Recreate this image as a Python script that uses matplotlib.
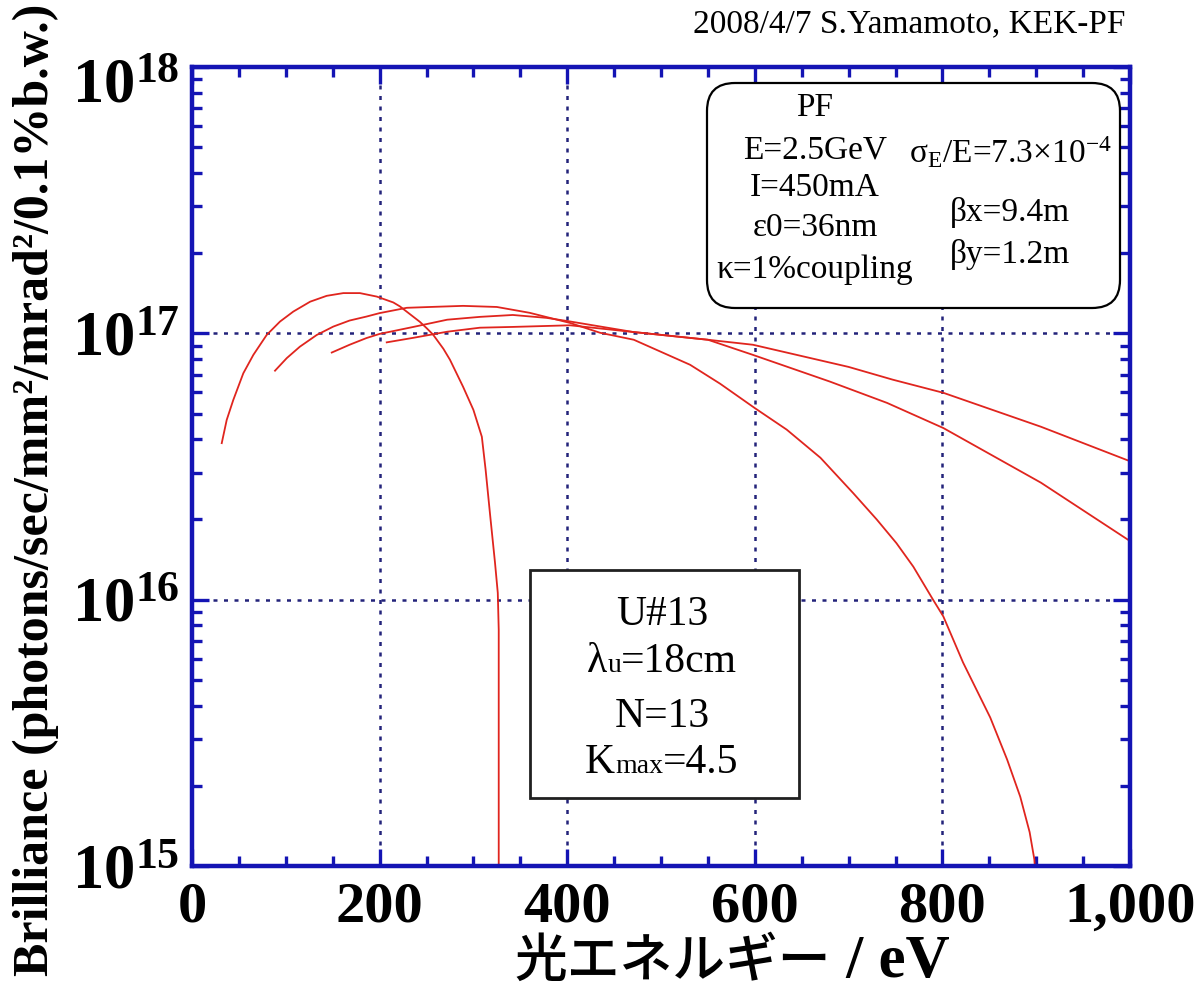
import matplotlib
matplotlib.use('Agg')
import matplotlib.pyplot as plt
from matplotlib.patches import FancyBboxPatch, Rectangle
from matplotlib.offsetbox import TextArea, HPacker, AnnotationBbox
from matplotlib.transforms import Affine2D, ScaledTranslation
from matplotlib.ticker import FixedLocator, LogLocator, NullFormatter, MultipleLocator

plt.rcParams['font.family'] = ['Liberation Serif', 'DejaVu Serif']
plt.rcParams['mathtext.fontset'] = 'custom'
plt.rcParams['mathtext.rm'] = 'Liberation Serif'
plt.rcParams['mathtext.bf'] = 'Liberation Serif:bold'
plt.rcParams['mathtext.it'] = 'Liberation Serif:italic'

# ---------------- data (photon energy eV, brilliance) ----------------
e_h1 = [31.7, 37, 44, 54.7, 65.4, 79.6, 93.8, 108, 126, 143.6, 161.3, 179,
        197, 214.6, 221.7, 243, 250, 257, 268, 275, 289, 300, 309, 313, 318,
        323, 326, 327, 327]
b_h1 = [3.87e16, 4.73e16, 5.62e16, 7.08e16, 8.30e16, 9.86e16, 1.107e17,
        1.207e17, 1.315e17, 1.383e17, 1.416e17, 1.416e17, 1.374e17, 1.306e17,
        1.262e17, 1.104e17, 1.047e17, 9.89e16, 8.75e16, 7.96e16, 6.30e16,
        5.16e16, 4.09e16, 3.08e16, 2.05e16, 1.38e16, 1.06e16, 7.7e15, 8.0e14]

e_h3 = [88.5, 101, 115, 133, 150.6, 168, 186, 200, 229, 254, 289, 325, 360,
        403, 435, 471, 531, 563, 600, 634, 670, 705, 730, 751, 769, 790, 801,
        822, 851, 869, 883, 893, 898, 899]
b_h3 = [7.24e16, 8.07e16, 8.91e16, 9.86e16, 1.06e17, 1.117e17, 1.156e17,
        1.191e17, 1.247e17, 1.256e17, 1.268e17, 1.256e17, 1.194e17, 1.094e17,
        1.005e17, 9.46e16, 7.62e16, 6.47e16, 5.24e16, 4.35e16, 3.41e16,
        2.51e16, 2.00e16, 1.63e16, 1.33e16, 1.00e16, 8.65e15, 5.81e15,
        3.61e15, 2.51e15, 1.82e15, 1.34e15, 1.06e15, 9.5e14]

e_h5 = [149, 168, 186, 200, 236, 272, 307, 342, 378, 403, 470, 550, 598, 680,
        741, 801, 905, 1000]
b_h5 = [8.47e16, 9.06e16, 9.60e16, 9.95e16, 1.057e17, 1.125e17, 1.153e17,
        1.172e17, 1.143e17, 1.108e17, 1.012e17, 9.46e16, 8.30e16, 6.59e16,
        5.48e16, 4.41e16, 2.75e16, 1.66e16]

e_h7 = [207.6, 236, 272, 307, 342, 403, 470, 550, 598, 700, 747, 801, 905, 1000]
b_h7 = [9.25e16, 9.62e16, 1.014e17, 1.050e17, 1.057e17, 1.072e17, 1.012e17,
        9.46e16, 9.06e16, 7.48e16, 6.70e16, 5.98e16, 4.46e16, 3.31e16]

x_ticks = [0, 200, 400, 600, 800, 1000]
x_ticklabels = ['0', '200', '400', '600', '800', '1,000']
y_ticks = [1e15, 1e16, 1e17, 1e18]
y_ticklabels = [r'$\mathbf{10^{15}}$', r'$\mathbf{10^{16}}$',
                r'$\mathbf{10^{17}}$', r'$\mathbf{10^{18}}$']

ring_left = ['PF', 'E=2.5GeV', 'I=450mA', 'ε0=36nm', 'κ=1%coupling']
ring_right = [r'$\mathrm{σ_E}$/E=7.3×10$^{\mathrm{-4}}$', 'βx=9.4m', 'βy=1.2m']

# ---------------- figure ----------------
W, H = 1200, 988
fig = plt.figure(figsize=(W / 100, H / 100), dpi=100)
fig.patch.set_facecolor('white')
# pixel transform (x from left, y from top)
T = Affine2D().scale(1 / 100, -1 / 100).translate(0, H / 100) + fig.dpi_scale_trans

ax = fig.add_axes([192 / W, 1 - 866 / H, (1130 - 192) / W, (866 - 67) / H])
frame_c = '#1414b4'
grid_c = '#23237a'
red = '#e0251e'

ax.set_yscale('log')
ax.set_xlim(0, 1000)
ax.set_ylim(1e15, 1e18)

for e, b in [(e_h1, b_h1), (e_h3, b_h3), (e_h5, b_h5), (e_h7, b_h7)]:
    ax.plot(e, b, color=red, lw=1.3, zorder=3)

ax.xaxis.set_major_locator(FixedLocator(x_ticks))
ax.set_xticklabels(x_ticklabels, fontsize=42, fontweight='bold')
ax.xaxis.set_minor_locator(MultipleLocator(50))
ax.yaxis.set_major_locator(FixedLocator(y_ticks))
ax.set_yticklabels(y_ticklabels, fontsize=45)
ax.yaxis.set_minor_locator(LogLocator(base=10, subs=range(2, 10), numticks=20))
ax.yaxis.set_minor_formatter(NullFormatter())

ax.tick_params(which='both', direction='in', top=True, right=True,
               color=frame_c, width=2.4)
ax.tick_params(which='major', length=12)
ax.tick_params(which='minor', length=7)
ax.tick_params(axis='x', which='major', pad=11)
ax.tick_params(axis='y', which='major', pad=9)

ax.grid(which='major', color=grid_c, linestyle=(0, (1.6, 2.6)), linewidth=1.8)
for s in ax.spines.values():
    s.set_color(frame_c)
    s.set_linewidth(3.2)
    s.set_zorder(4)

# shift top y label down slightly as in reference
lbls = ax.get_yticklabels()
lbls[-1].set_transform(lbls[-1].get_transform() +
                       ScaledTranslation(0, -0.14, fig.dpi_scale_trans))

# ---------------- axis labels ----------------
fig.text(36 / W, 1 - 490 / H, 'Brilliance (photons/sec/mm²/mrad²/0.1%b.w.)',
         rotation=90, ha='center', va='center', fontsize=36, fontweight='bold')

xl = HPacker(children=[
    TextArea('光エネルギー', textprops=dict(family=['Noto Sans CJK JP', 'DejaVu Sans'],
                                          fontsize=38, fontweight='medium')),
    TextArea(' / eV', textprops=dict(family='Liberation Serif', fontsize=44,
                                     fontweight='bold'))],
    align='baseline', pad=0, sep=0)
fig.add_artist(AnnotationBbox(xl, (732, 962), xycoords=T, frameon=False,
                              box_alignment=(0.5, 0.5), annotation_clip=False))

fig.text(1125 / W, 1 - 24 / H, '2008/4/7 S.Yamamoto, KEK-PF', ha='right',
         va='center', fontsize=24)

# ---------------- PF parameter box ----------------
pf = FancyBboxPatch((707, 83), 413, 225,
                    boxstyle='round,pad=0,rounding_size=28',
                    transform=T, facecolor='white', edgecolor='black',
                    lw=1.6, zorder=5, clip_on=False)
ax.add_artist(pf)
for s, y in zip(ring_left, [108, 150, 188, 228, 270]):
    ax.text(815, y, s, transform=T, ha='center', va='center', fontsize=24,
            zorder=6, clip_on=False)
for s, y in zip(ring_right, [152, 213, 254]):
    ax.text(1010, y, s, transform=T, ha='center', va='center', fontsize=24,
            zorder=6, clip_on=False)

# ---------------- undulator box ----------------
ub = Rectangle((530, 570), 269, 228, transform=T, facecolor='white',
               edgecolor='#202020', lw=2, zorder=5, clip_on=False)
ax.add_artist(ub)
ax.text(662, 615, 'U#13', transform=T, ha='center', va='center', fontsize=30,
        zorder=6)
ax.text(662, 717, 'N=13', transform=T, ha='center', va='center', fontsize=30,
        zorder=6)


def packed(parts, xy):
    hp = HPacker(children=[TextArea(t, textprops=dict(fontsize=fs))
                           for t, fs in parts], align='baseline', pad=0, sep=0)
    ab = AnnotationBbox(hp, xy, xycoords=T, frameon=False,
                        box_alignment=(0.5, 0.5), annotation_clip=False,
                        zorder=6)
    ax.add_artist(ab)


packed([('λ', 30), ('u', 20), ('=18cm', 30)], (662, 662))
packed([('K', 30), ('max', 20), ('=4.5', 30)], (662, 763))

fig.savefig('out.png', dpi=100, facecolor='white')
